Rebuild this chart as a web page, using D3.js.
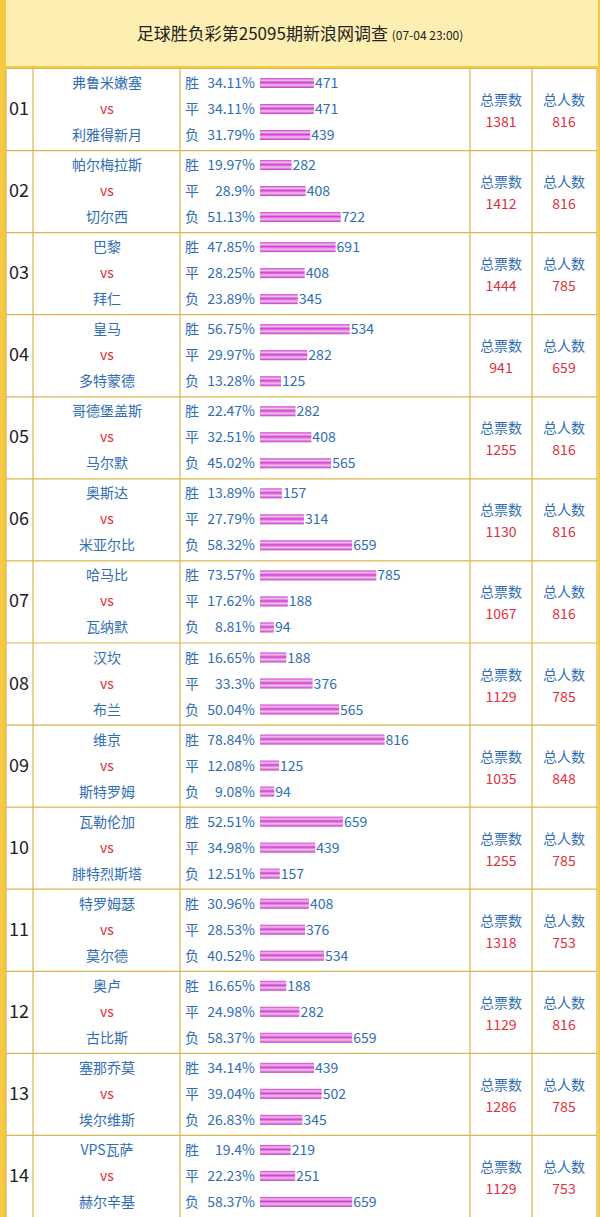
<!DOCTYPE html>
<html><head><meta charset="utf-8">
<script src="https://cdn.jsdelivr.net/npm/d3@7"></script>
<style>body{margin:0;background:#fff}</style>
</head><body><div id="chart"></div>
<script>
// survey data, one entry per match
var homeTeams = ['弗鲁米嫩塞','帕尔梅拉斯','巴黎','皇马','哥德堡盖斯','奥斯达','哈马比','汉坎','维京','瓦勒伦加','特罗姆瑟','奥卢','塞那乔莫','VPS瓦萨'];
var awayTeams = ['利雅得新月','切尔西','拜仁','多特蒙德','马尔默','米亚尔比','瓦纳默','布兰','斯特罗姆','腓特烈斯塔','莫尔德','古比斯','埃尔维斯','赫尔辛基'];
var pcts = [
    [34.11,34.11,31.79],[19.97,28.9,51.13],[47.85,28.25,23.89],[56.75,29.97,13.28],
    [22.47,32.51,45.02],[13.89,27.79,58.32],[73.57,17.62,8.81],[16.65,33.3,50.04],
    [78.84,12.08,9.08],[52.51,34.98,12.51],[30.96,28.53,40.52],[16.65,24.98,58.37],
    [34.14,39.04,26.83],[19.4,22.23,58.37]
];
var votes = [
    [471,471,439],[282,408,722],[691,408,345],[534,282,125],[282,408,565],[157,314,659],
    [785,188,94],[188,376,565],[816,125,94],[659,439,157],[408,376,534],[188,282,659],
    [439,502,345],[219,251,659]
];
var totalVotes = [1381,1412,1444,941,1255,1130,1067,1129,1035,1255,1318,1129,1286,1129];
var totalPeople = [816,816,785,659,816,816,816,785,848,785,753,816,785,753];
var outcomes = ['胜','平','负'];

var W = 600, H = 1217, TOP = 68, ROWH = (H - TOP) / 14,
    GRID = '#dcb451', BLUE = '#2f6db5', RED = '#e0303a';
var FONT = '"Noto Sans CJK SC", "Noto Sans", sans-serif';

var svg = d3.select('#chart').append('svg').attr('width', W).attr('height', H)
    .style('font-family', FONT);

var defs = svg.append('defs');
var grad = defs.append('linearGradient').attr('id', 'bar')
    .attr('x1', 0).attr('x2', 0).attr('y1', 0).attr('y2', 1);
[['0%','#c83ec8'],['22%','#f4c0f0'],['45%','#cc44cc'],['70%','#f4c0f0'],['100%','#c23ac2']]
    .forEach(s => grad.append('stop').attr('offset', s[0]).attr('stop-color', s[1]));

// frame and header
svg.append('rect').attr('width', W).attr('height', H).attr('fill', '#f7c940');
svg.append('rect').attr('x', 6).attr('y', 0).attr('width', W - 8).attr('height', TOP - 2).attr('fill', '#fdefb2');
svg.append('rect').attr('x', 6).attr('y', TOP).attr('width', W - 8).attr('height', H - TOP).attr('fill', '#fff');
var title = svg.append('text').attr('x', 300).attr('y', 40).attr('text-anchor', 'middle')
    .attr('font-size', 17).attr('fill', '#222');
title.append('tspan').text('足球胜负彩第25095期新浪网调查 ');
title.append('tspan').attr('font-size', 12).text('(07-04 23:00)');

var y = d3.scaleBand().domain(d3.range(14)).range([TOP, H]);
var barW = d3.scaleLinear().domain([0, 100]).range([0, 158]);

// column lines
[6, 33, 180, 470, 532, W - 3].forEach(x => svg.append('line')
    .attr('x1', x).attr('x2', x).attr('y1', TOP).attr('y2', H).attr('stroke', GRID).attr('stroke-width', 1.2));

var rows = svg.selectAll('g.row').data(d3.range(14)).enter().append('g')
    .attr('transform', i => `translate(0,${y(i)})`);

rows.append('line').attr('x1', 6).attr('x2', W - 3).attr('y1', 0.5).attr('y2', 0.5)
    .attr('stroke', GRID).attr('stroke-width', 1.2);

rows.append('text').attr('x', 9).attr('y', ROWH / 2 + 6).attr('font-size', 18).attr('fill', '#222')
    .text(i => d3.format('02')(i + 1));

var teamX = 107, lineY = [15, 41, 67];
rows.append('text').attr('x', teamX).attr('y', lineY[0] + 5).attr('text-anchor', 'middle')
    .attr('font-size', 14).attr('fill', BLUE).text(i => homeTeams[i]);
rows.append('text').attr('x', teamX).attr('y', lineY[1] + 5).attr('text-anchor', 'middle')
    .attr('font-size', 14).attr('fill', RED).text('vs');
rows.append('text').attr('x', teamX).attr('y', lineY[2] + 5).attr('text-anchor', 'middle')
    .attr('font-size', 14).attr('fill', BLUE).text(i => awayTeams[i]);

rows.each(function(i) {
    var g = d3.select(this);
    outcomes.forEach((o, k) => {
        var cy = lineY[k];
        g.append('text').attr('x', 185).attr('y', cy + 5).attr('font-size', 14).attr('fill', BLUE).text(o);
        g.append('text').attr('x', 255).attr('y', cy + 5).attr('text-anchor', 'end')
            .attr('font-size', 14).attr('fill', BLUE).text(pcts[i][k] + '%');
        var w = barW(pcts[i][k]);
        g.append('rect').attr('x', 260).attr('y', cy - 5).attr('width', w).attr('height', 10)
            .attr('fill', 'url(#bar)');
        g.append('text').attr('x', 261 + w).attr('y', cy + 5).attr('font-size', 14).attr('fill', BLUE)
            .text(votes[i][k]);
    });
});

rows.append('text').attr('x', 501).attr('y', ROWH / 2 - 4).attr('text-anchor', 'middle')
    .attr('font-size', 14).attr('fill', BLUE).text('总票数');
rows.append('text').attr('x', 501).attr('y', ROWH / 2 + 18).attr('text-anchor', 'middle')
    .attr('font-size', 14).attr('fill', RED).text(i => totalVotes[i]);
rows.append('text').attr('x', 564).attr('y', ROWH / 2 - 4).attr('text-anchor', 'middle')
    .attr('font-size', 14).attr('fill', BLUE).text('总人数');
rows.append('text').attr('x', 564).attr('y', ROWH / 2 + 18).attr('text-anchor', 'middle')
    .attr('font-size', 14).attr('fill', RED).text(i => totalPeople[i]);
</script></body></html>
